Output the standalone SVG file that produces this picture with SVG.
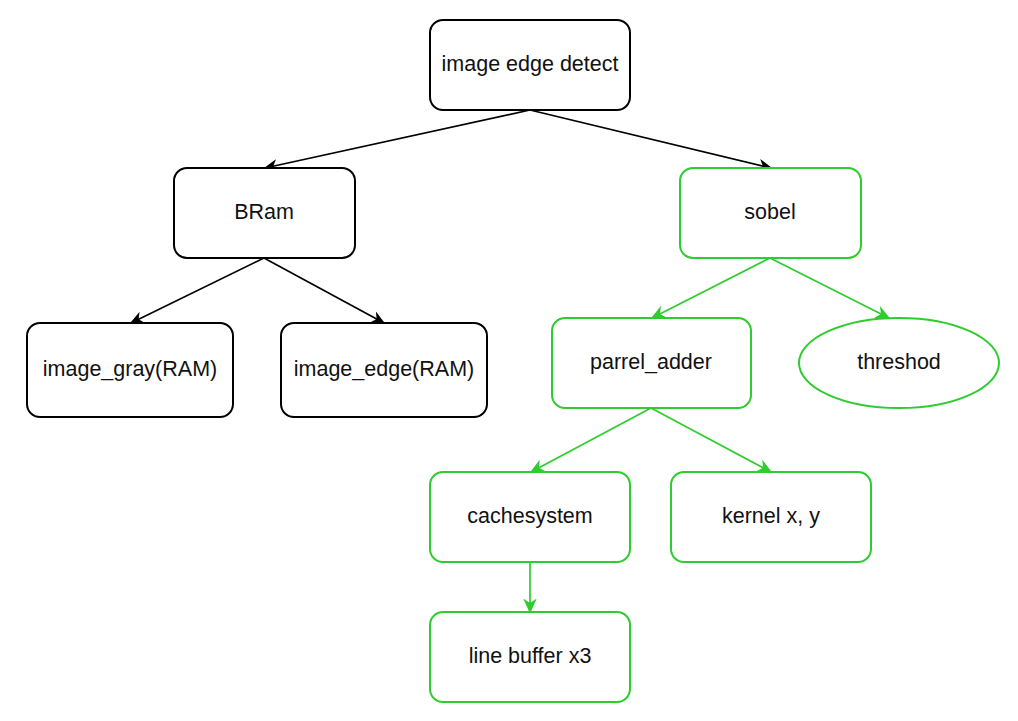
<svg xmlns="http://www.w3.org/2000/svg" width="1018" height="721" viewBox="0 0 1018 721">
<style>
.k rect,.k ellipse{fill:#fff;stroke:#000;stroke-width:2}
.g rect,.g ellipse{fill:#fff;stroke:#2ecc2e;stroke-width:2}
text{font-family:"Liberation Sans",Arial,sans-serif;font-size:21.5px;fill:#111;text-anchor:middle;dominant-baseline:central}
.ck{stroke:#000;stroke-width:1.7;fill:none;marker-end:url(#ak)}
.cg{stroke:#2ecc2e;stroke-width:1.7;fill:none;marker-end:url(#ag)}
</style>
<defs>
<marker id="ak" viewBox="0 0 10 10" refX="9" refY="5" markerWidth="14" markerHeight="14" markerUnits="userSpaceOnUse" orient="auto"><path d="M0,0.5 L10,5 L0,9.5 L3,5 Z" fill="#000"/></marker>
<marker id="ag" viewBox="0 0 10 10" refX="9" refY="5" markerWidth="15" markerHeight="15" markerUnits="userSpaceOnUse" orient="auto"><path d="M0,0.5 L10,5 L0,9.5 L3,5 Z" fill="#2ecc2e"/></marker>
</defs>
<rect width="1018" height="721" fill="#fff"/>
<g id="connectors">
<line class="ck" x1="530" y1="110" x2="265" y2="168"/>
<line class="ck" x1="530" y1="110" x2="771" y2="168"/>
<line class="ck" x1="264" y1="258" x2="131" y2="323"/>
<line class="ck" x1="264" y1="258" x2="384" y2="323"/>
<line class="cg" x1="770" y1="258" x2="652" y2="318"/>
<line class="cg" x1="770" y1="258" x2="889" y2="318"/>
<line class="cg" x1="651" y1="408" x2="531" y2="472"/>
<line class="cg" x1="651" y1="408" x2="771" y2="472"/>
<line class="cg" x1="530" y1="562" x2="530" y2="612"/>
</g>
<g id="n-root" class="k"><rect x="430" y="20" width="200" height="90" rx="13"/><text x="530" y="64">image edge detect</text></g>
<g id="n-bram" class="k"><rect x="174" y="168" width="181" height="90" rx="13"/><text x="264" y="212">BRam</text></g>
<g id="n-sobel" class="g"><rect x="680" y="168" width="181" height="90" rx="13"/><text x="770" y="212">sobel</text></g>
<g id="n-gray" class="k"><rect x="27" y="323" width="206" height="94" rx="13"/><text x="130" y="369">image_gray(RAM)</text></g>
<g id="n-edge" class="k"><rect x="281" y="323" width="206" height="94" rx="13"/><text x="384" y="369">image_edge(RAM)</text></g>
<g id="n-adder" class="g"><rect x="552" y="318" width="199" height="90" rx="13"/><text x="651" y="362">parrel_adder</text></g>
<g id="n-thresh" class="g"><ellipse cx="899" cy="363" rx="100" ry="45"/><text x="899" y="362">threshod</text></g>
<g id="n-cache" class="g"><rect x="430" y="472" width="200" height="90" rx="13"/><text x="530" y="516">cachesystem</text></g>
<g id="n-kernel" class="g"><rect x="671" y="472" width="200" height="90" rx="13"/><text x="771" y="516">kernel x, y</text></g>
<g id="n-line" class="g"><rect x="430" y="612" width="200" height="90" rx="13"/><text x="530" y="656">line buffer x3</text></g>
</svg>
